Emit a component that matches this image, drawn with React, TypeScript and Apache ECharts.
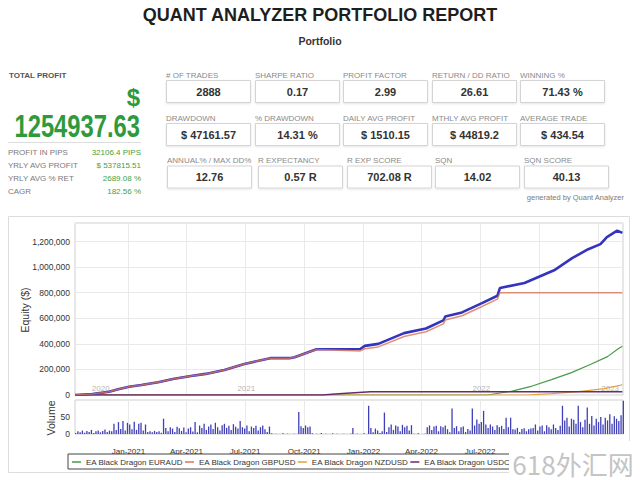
import React, { useEffect, useRef } from 'react';
import * as echarts from 'echarts';

const FONT = '"Liberation Sans", Arial, Helvetica, sans-serif';

// ---------- header texts ----------
const titleText = 'QUANT ANALYZER PORTFOLIO REPORT';
const subtitleText = 'Portfolio';
const totalProfitLabel = 'TOTAL PROFIT';
const currencySign = '$';
const totalProfitValue = '1254937.63';
const summaryLabels = ['PROFIT IN PIPS', 'YRLY AVG PROFIT', 'YRLY AVG % RET', 'CAGR'];
const summaryValues = ['32106.4 PIPS', '$ 537815.51', '2689.08 %', '182.56 %'];
const statLabelsRow1 = ['# OF TRADES', 'SHARPE RATIO', 'PROFIT FACTOR', 'RETURN / DD RATIO', 'WINNING %'];
const statValuesRow1 = ['2888', '0.17', '2.99', '26.61', '71.43 %'];
const statLabelsRow2 = ['DRAWDOWN', '% DRAWDOWN', 'DAILY AVG PROFIT', 'MTHLY AVG PROFIT', 'AVERAGE TRADE'];
const statValuesRow2 = ['$ 47161.57', '14.31 %', '$ 1510.15', '$ 44819.2', '$ 434.54'];
const statLabelsRow3 = ['ANNUAL% / MAX DD%', 'R EXPECTANCY', 'R EXP SCORE', 'SQN', 'SQN SCORE'];
const statValuesRow3 = ['12.76', '0.57 R', '702.08 R', '14.02', '40.13'];
const generatedText = 'generated by Quant Analyzer';
const watermarkText = '618外汇网';

// ---------- axes ----------
const xMinDate = '2020-10-10';
const xMaxDate = '2023-02-08';
// quarterly grid lines
const quarterDates = ['2021-01-01', '2021-04-01', '2021-07-01', '2021-10-01', '2022-01-01', '2022-04-01', '2022-07-01', '2022-10-01', '2023-01-01'];
// tick labels visible in the reference (later ones are hidden under the watermark)
const labelDates = ['2021-01-01', '2021-04-01', '2021-07-01', '2021-10-01', '2022-01-01', '2022-04-01', '2022-07-01'];
const labelTexts = ['Jan-2021', 'Apr-2021', 'Jul-2021', 'Oct-2021', 'Jan-2022', 'Apr-2022', 'Jul-2022'];
const yearLabels = ['2020', '2021', '2022', '2023'];
const yearLabelDates = ['2020-11-19', '2021-07-03', '2022-07-03', '2023-01-19'];

// ---------- equity series ----------
const portfolioDates = ['2020-10-10', '2020-11-06', '2020-12-02', '2020-12-16', '2021-01-02', '2021-01-21', '2021-02-16', '2021-03-11', '2021-04-08', '2021-05-01', '2021-05-30', '2021-06-30', '2021-08-09', '2021-09-08', '2021-09-16', '2021-10-20', '2021-12-27', '2022-01-03', '2022-01-24', '2022-03-05', '2022-04-08', '2022-05-05', '2022-05-08', '2022-06-03', '2022-07-04', '2022-07-28', '2022-08-01', '2022-09-08', '2022-10-24', '2022-11-21', '2022-12-16', '2023-01-04', '2023-01-14', '2023-01-30', '2023-02-07'];
const portfolioValues = [0, 8000, 26000, 45000, 65000, 78000, 100000, 125000, 149000, 165000, 196000, 243000, 288000, 288000, 295000, 358000, 360000, 384000, 400000, 484000, 520000, 583000, 614000, 646000, 719000, 776000, 837000, 876000, 975000, 1070000, 1140000, 1180000, 1235000, 1285000, 1268000];

const gbpusdDates = ['2020-10-10', '2020-11-06', '2020-12-02', '2020-12-16', '2021-01-02', '2021-01-21', '2021-02-16', '2021-03-11', '2021-04-08', '2021-05-01', '2021-05-30', '2021-06-30', '2021-08-09', '2021-09-08', '2021-09-16', '2021-10-20', '2021-12-27', '2022-01-03', '2022-01-24', '2022-03-05', '2022-04-08', '2022-05-05', '2022-05-08', '2022-06-03', '2022-07-04', '2022-07-28', '2022-08-01', '2023-02-07'];
const gbpusdValues = [0, 8000, 26000, 45000, 65000, 78000, 100000, 125000, 149000, 165000, 196000, 243000, 288000, 288000, 295000, 356000, 345000, 362000, 376000, 458000, 495000, 556000, 586000, 620000, 692000, 750000, 800000, 800000];

const euraudDates = ['2020-10-10', '2022-07-12', '2022-08-20', '2022-09-20', '2022-10-20', '2022-11-20', '2022-12-20', '2023-01-15', '2023-01-31', '2023-02-07'];
const euraudValues = [0, 0, 30000, 70000, 120000, 175000, 240000, 300000, 360000, 382000];

const nzdusdDates = ['2020-10-10', '2022-09-12', '2022-10-20', '2022-12-01', '2023-01-10', '2023-02-07'];
const nzdusdValues = [0, 0, 10000, 26000, 50000, 80000];

const usdcadDates = ['2020-10-10', '2021-10-30', '2021-11-18', '2021-12-12', '2022-01-12', '2023-02-07'];
const usdcadValues = [0, 0, 8000, 16000, 25000, 25000];

// ---------- volume (trades, twice weekly from start) ----------
const volumeStartDate = '2020-10-11';
const volumeStepDays = 3.5;
const volumeValues = [
  3, 8, 5, 10, 4, 9, 6, 12, 3, 8, 10, 5, 9, 13, 6, 10, 8,
  30, 12, 35, 15, 38, 10, 33, 28, 14, 36, 12, 30,
  33, 10, 28, 6,
  8, 5, 9, 6, 8, 4,
  45,
  18, 8, 20, 16, 6, 21, 17, 9, 19, 5, 16, 20, 7,
  35,
  5, 25, 18, 30, 12, 22, 28, 15, 33, 20, 10, 26, 30, 18, 24, 12, 29, 21, 16,
  38, 20,
  16, 25, 8, 22, 18, 24, 10, 20, 25, 14, 6, 22,
  2, 0, 1, 0, 0, 2, 0, 1, 0, 0, 1, 0,
  65,
  23, 18, 25, 20, 22,
  2, 0, 1, 0, 3, 0, 1, 0, 0, 2, 0, 1, 0, 0, 1, 0, 0, 1,
  18,
  0, 1, 0, 0, 2, 0,
  83,
  18, 5, 16, 10, 3, 8,
  63,
  6, 20, 28, 12, 25, 22, 8, 27, 20, 24, 10, 26,
  1, 0, 2, 0, 0, 1,
  20, 25, 12, 22, 24, 8, 23, 20, 25, 14, 5,
  75,
  18, 23, 8, 20, 22, 6, 15, 10,
  75,
  25, 43, 30, 35, 68, 28,
  18, 28, 22, 12, 26, 20, 24, 15,
  48, 20, 48, 14,
  13, 18, 6, 15, 17, 8, 14, 16,
  18, 28, 10, 22, 25, 8, 26, 20, 14, 28, 18, 12, 24,
  83,
  40, 48, 22, 45, 42, 30,
  83,
  35, 20, 42,
  78,
  30, 53, 25, 45, 35, 50, 28, 48, 40, 58, 30, 52, 45, 38, 55,
  98,
];

const ts = (s: string) => new Date(s + 'T00:00:00').getTime();
const pairs = (d: string[], v: number[]) => d.map((s, i) => [ts(s), v[i]]);
const DAY = 86400000;

function buildGraphic() {
  const els: any[] = [];
  const txt = (x: number, y: number, text: string, font: string, fill: string, align = 'left', extra: any = {}) => ({
    type: 'text', x, y, silent: true,
    style: { text, font, fill, textAlign: align, textVerticalAlign: 'middle' },
    ...extra,
  });
  const green = '#2f9a3c';
  els.push({ type: 'rect', z: -10, silent: true, shape: { x: 8.5, y: 216.5, width: 621, height: 256 }, style: { fill: '#fff', stroke: '#dcdcdc', lineWidth: 1 } });
  els.push(txt(320, 15, titleText, `bold 18px ${FONT}`, '#1e1e1e', 'center'));
  els.push(txt(320, 41, subtitleText, `bold 10.5px ${FONT}`, '#333', 'center'));
  els.push(txt(9, 75, totalProfitLabel, `bold 8px ${FONT}`, '#555'));
  els.push(txt(140, 97, currencySign, `bold 24px ${FONT}`, green, 'right'));
  els.push(txt(140, 126, totalProfitValue, `bold 29px ${FONT}`, green, 'right', { scaleX: 0.82, scaleY: 1.05 }));
  els.push({ type: 'line', silent: true, shape: { x1: 8, y1: 142.5, x2: 141, y2: 142.5 }, style: { stroke: '#dddddd', lineWidth: 1 } });
  const sumY = [152, 165, 178, 191];
  summaryLabels.forEach((l, i) => {
    els.push(txt(8, sumY[i], l, `8px ${FONT}`, '#7a7a7a'));
    els.push(txt(141, sumY[i], summaryValues[i], `8px ${FONT}`, '#3fa23f', 'right'));
  });
  const rows = [
    { labels: statLabelsRow1, values: statValuesRow1, labelY: 75.5, boxY: 80, cols: [166, 255, 343, 432, 520] },
    { labels: statLabelsRow2, values: statValuesRow2, labelY: 118, boxY: 123, cols: [166, 255, 343, 432, 520] },
    { labels: statLabelsRow3, values: statValuesRow3, labelY: 160, boxY: 165.5, cols: [167, 258, 347, 435, 524] },
  ];
  rows.forEach((r) => {
    r.cols.forEach((cx, i) => {
      els.push({ type: 'rect', silent: true, shape: { x: cx + 0.5, y: r.boxY + 0.5, width: 84, height: 22 }, style: { fill: '#fff', stroke: '#d4d4d4', lineWidth: 1, shadowBlur: 2, shadowColor: 'rgba(0,0,0,0.10)', shadowOffsetY: 1 } });
      els.push(txt(cx, r.labelY, r.labels[i], `8px ${FONT}`, '#8a8a8a'));
      els.push(txt(cx + 42.5, r.boxY + 11.5, r.values[i], `bold 11px ${FONT}`, '#333', 'center'));
    });
  });
  els.push(txt(624, 197, generatedText, `7.5px ${FONT}`, '#7a7a7a', 'right'));
  els.push(txt(25, 310, 'Equity ($)', `10.5px ${FONT}`, '#333', 'center', { rotation: Math.PI / 2 }));
  els.push(txt(51, 418, 'Volume', `10.5px ${FONT}`, '#333', 'center', { rotation: Math.PI / 2 }));
  els.push({ type: 'rect', z: 100, silent: true, shape: { x: 509, y: 441, width: 131, height: 39 }, style: { fill: '#fff' } });
  els.push(txt(573, 463, watermarkText, `26px "Noto Sans CJK SC", sans-serif`, '#c4c4c4', 'center', { z: 101 }));
  return els;
}

function buildOption() {
  const quarterTimes = quarterDates.map(ts);
  const labelTimes = labelDates.map(ts);
  const qLabel = (v: number) => {
    const i = labelTimes.findIndex((t) => Math.abs(t - v) < DAY);
    return i >= 0 ? labelTexts[i] : '';
  };
  const volStart = ts(volumeStartDate);
  const volumeData = volumeValues.map((v, i) => [volStart + i * volumeStepDays * DAY, v]);
  const lineSeries = (name: string, d: string[], v: number[], color: string, width: number, z = 2, opacity = 1) => ({
    name, type: 'line', xAxisIndex: 0, yAxisIndex: 0, data: pairs(d, v), symbol: 'none', z,
    lineStyle: { color, width, opacity }, itemStyle: { color }, silent: true,
  });
  const xCommon = {
    type: 'value', min: ts(xMinDate), max: ts(xMaxDate),
    axisLine: { show: false },
    axisTick: { show: false, customValues: quarterTimes },
    splitLine: { show: true, lineStyle: { color: '#e9e9e9', width: 1 } },
  };
  return {
    animation: false,
    textStyle: { fontFamily: FONT },
    graphic: { elements: buildGraphic() },
    legend: {
      left: 68, top: 454, orient: 'horizontal',
      data: ['EA Black Dragon EURAUD', 'EA Black Dragon GBPUSD', 'EA Black Dragon NZDUSD', 'EA Black Dragon USDCAD'],
      icon: 'rect', itemWidth: 9, itemHeight: 1.5, itemGap: 2,
      borderColor: '#444', borderWidth: 1, padding: [4, 6, 3, 4],
      textStyle: { fontSize: 8, color: '#333', fontFamily: FONT },
      backgroundColor: '#fff',
    },
    grid: [
      { left: 75, top: 223, width: 548, height: 172, show: true, borderColor: '#cfcfcf', borderWidth: 1, backgroundColor: '#fff', outerBoundsMode: 'none' },
      { left: 75, top: 400, width: 548, height: 34, show: true, borderColor: '#cfcfcf', borderWidth: 1, backgroundColor: '#fff', outerBoundsMode: 'none' },
    ],
    xAxis: [
      { ...xCommon, gridIndex: 0, axisLabel: { show: false, customValues: labelTimes } },
      {
        ...xCommon, gridIndex: 1,
        axisLabel: { show: true, customValues: labelTimes, formatter: (v: number) => qLabel(v), fontSize: 8, color: '#333', margin: 13, hideOverlap: false },
      },
    ],
    yAxis: [
      {
        type: 'value', gridIndex: 0, min: 0, max: 1345000, interval: 200000,
        axisLine: { show: false }, axisTick: { show: false },
        axisLabel: { fontSize: 8.5, color: '#333', margin: 5, showMaxLabel: false, formatter: (v: number) => v.toLocaleString('en-US') },
        splitLine: { show: true, lineStyle: { color: '#e9e9e9' } },
      },
      {
        type: 'value', gridIndex: 1, min: 0, max: 100, interval: 50,
        axisLine: { show: false }, axisTick: { show: false },
        axisLabel: { fontSize: 8.5, color: '#333', margin: 5, showMaxLabel: false },
        splitLine: { show: false },
      },
    ],
    series: [
      lineSeries('Portfolio', portfolioDates, portfolioValues, '#3434bd', 2.6, 3),
      lineSeries('EA Black Dragon EURAUD', euraudDates, euraudValues, '#4a9a4a', 1.2),
      lineSeries('EA Black Dragon NZDUSD', nzdusdDates, nzdusdValues, '#e3a13a', 1.2),
      lineSeries('EA Black Dragon USDCAD', usdcadDates, usdcadValues, '#6b2a6b', 1.5),
      lineSeries('EA Black Dragon GBPUSD', gbpusdDates, gbpusdValues, '#d9735a', 1.5, 4, 0.8),
      {
        name: 'Volume', type: 'bar', xAxisIndex: 1, yAxisIndex: 1, data: volumeData, barWidth: 1.3,
        itemStyle: { color: '#3f3fb8' }, silent: true,
      },
      {
        name: 'years', type: 'scatter', xAxisIndex: 0, yAxisIndex: 0, silent: true, z: 1,
        data: yearLabelDates.map((d) => [ts(d), 52000]),
        symbolSize: 1, itemStyle: { color: 'rgba(0,0,0,0)' },
        label: { show: true, position: 'inside', formatter: (p: any) => yearLabels[p.dataIndex], color: '#a0a0a0', fontSize: 8 },
      },
    ],
  };
}

export default function App() {
  const ref = useRef<HTMLDivElement>(null);
  useEffect(() => {
    if (!ref.current) return;
    const chart = echarts.init(ref.current, undefined, { renderer: 'svg' });
    chart.setOption(buildOption() as any);
    return () => chart.dispose();
  }, []);
  return (
    <div
      ref={ref}
      style={{ position: 'absolute', left: 0, top: 0, width: 640, height: 480, background: '#fff' }}
    />
  );
}
